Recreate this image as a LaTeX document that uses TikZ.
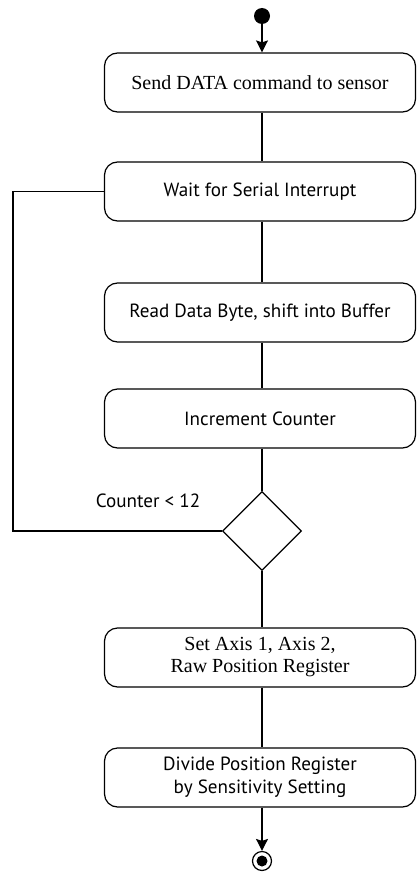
\documentclass[tikz,border=0pt]{standalone}
\usepackage{fontspec}
\setmainfont{Liberation Serif}
\newfontfamily\boxsans{PT Sans}
\usetikzlibrary{shapes.geometric,arrows.meta}
\tikzset{
  actbox/.style={draw, line width=1.2pt, rounded corners=13pt, minimum width=311pt, minimum height=59pt, align=center, inner sep=0pt},
  serifbox/.style={actbox, font=\fontsize{20}{22}\selectfont},
  sansbox/.style={actbox, font=\boxsans\fontsize{19.1}{23}\selectfont},
  flow/.style={line width=1.2pt},
  flowarrow/.style={line width=1.2pt, -{Stealth[length=12pt,width=12pt,inset=2pt]}},
}
\begin{document}
\begin{tikzpicture}[x=1pt,y=-1pt]
\useasboundingbox (0,0) rectangle (416,875);
\node[circle, fill=black, minimum size=16pt, inner sep=0pt] (start) at (262,16) {};
\node[serifbox] (b1) at (260,82.5) {Send DATA command to sensor};
\node[sansbox] (b2) at (260,191.5) {Wait for Serial Interrupt};
\node[sansbox] (b3) at (260,312.5) {Read Data Byte, shift into Buffer};
\node[sansbox] (b4) at (260,418.5) {Increment Counter};
\node[diamond, draw, line width=1.2pt, minimum width=79pt, minimum height=79pt, inner sep=0pt] (dec) at (262,531) {};
\node[serifbox] (b5) at (260,657.5) {Set Axis 1, Axis 2,\\Raw Position Register};
\node[sansbox] (b6) at (260,777.5) {Divide Position Register\\by Sensitivity Setting};
\node[circle, draw, line width=1.2pt, minimum size=19pt, inner sep=0pt] (stop) at (262,861) {};
\node[circle, fill=black, minimum size=11pt, inner sep=0pt] (stopdot) at (262,861) {};
\node[font=\boxsans\fontsize{19.1}{23}\selectfont] (lbl) at (148,501) {Counter < 12};
\coordinate (lt) at (13,191.5);
\coordinate (lb) at (13,531);
\draw[flowarrow] (start) -- (start |- b1.north);
\draw[flow] (start |- b1.south) -- (start |- b2.north);
\draw[flow] (start |- b2.south) -- (start |- b3.north);
\draw[flow] (start |- b3.south) -- (start |- b4.north);
\draw[flow] (start |- b4.south) -- (dec.north);
\draw[flow] (dec.south) -- (start |- b5.north);
\draw[flow] (start |- b5.south) -- (start |- b6.north);
\draw[flowarrow] (start |- b6.south) -- (stop.north);
\draw[flow] (b2.west) -- (lt) -- (lb) -- (dec.west);
\end{tikzpicture}
\end{document}
